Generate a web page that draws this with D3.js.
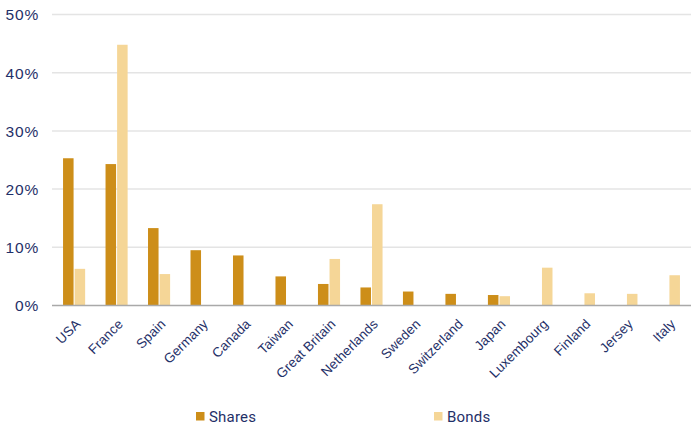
<!DOCTYPE html>
<html>
<head>
<meta charset="utf-8">
<script src="https://cdn.jsdelivr.net/npm/d3@7/dist/d3.min.js"></script>
<style>
  html, body { margin: 0; padding: 0; background: #fff; }
  svg { display: block; font-family: Roboto, "Liberation Sans", Arial, sans-serif; }
</style>
</head>
<body>
<svg id="chart" width="691" height="428"></svg>
<script>
// Country allocation, in percent
const countries = ["USA", "France", "Spain", "Germany", "Canada", "Taiwan", "Great Britain",
  "Netherlands", "Sweden", "Switzerland", "Japan", "Luxembourg", "Finland", "Jersey", "Italy"];
const shares = [25.3, 24.3, 13.3, 9.5, 8.6, 5.0, 3.7, 3.1, 2.4, 2.0, 1.8, 0, 0, 0, 0];
const bonds  = [6.3, 44.8, 5.4, 0, 0, 0, 8.0, 17.4, 0, 0, 1.6, 6.5, 2.1, 2.0, 5.2];
const seriesNames = ["Shares", "Bonds"];
const yTicks = [0, 10, 20, 30, 40, 50];

const colors = { Shares: "#CD8E19", Bonds: "#F5D697" };
const textColor = "#1F3068";

const svg = d3.select("#chart");
const margin = { left: 52, right: 691, top: 14.5, bottom: 305.5 };

const x0 = d3.scaleBand().domain(countries).range([margin.left, margin.right])
  .paddingInner(0.48).paddingOuter(0.26);
const x1 = d3.scaleBand().domain(seriesNames).range([0, x0.bandwidth()]).paddingInner(0.09);
const y = d3.scaleLinear().domain([0, 50]).range([margin.bottom, margin.top]);

// Gridlines
svg.append("g").selectAll("line").data(yTicks.filter(t => t > 0)).join("line")
  .attr("x1", margin.left).attr("x2", margin.right)
  .attr("y1", d => y(d)).attr("y2", d => y(d))
  .attr("stroke", "#e4e4e4").attr("stroke-width", 1.5);

// Y axis labels
const yAxis = d3.axisLeft(y).tickValues(yTicks).tickFormat(d => d + "%").tickSize(0).tickPadding(13);
const yg = svg.append("g").attr("transform", `translate(${margin.left},0)`).call(yAxis);
yg.select(".domain").remove();
yg.selectAll("text").attr("fill", textColor)
  .style("font-size", "15.5px").style("letter-spacing", "0.8px")
  .attr("dy", "0.35em");

// Bars
const rows = countries.map((c, i) => ({ country: c, Shares: shares[i], Bonds: bonds[i] }));
const groups = svg.append("g").selectAll("g").data(rows).join("g")
  .attr("transform", d => `translate(${x0(d.country)},0)`);
groups.selectAll("rect")
  .data(d => seriesNames.map(s => ({ s, v: d[s] })).filter(e => e.v > 0))
  .join("rect")
  .attr("x", e => x1(e.s))
  .attr("width", x1.bandwidth())
  .attr("y", e => y(e.v))
  .attr("height", e => y(0) - y(e.v))
  .attr("fill", e => colors[e.s]);

// Baseline
svg.append("line")
  .attr("x1", margin.left).attr("x2", margin.right)
  .attr("y1", y(0)).attr("y2", y(0))
  .attr("stroke", "#a9a9a9").attr("stroke-width", 1.5);

// X axis labels, rotated
const xAxis = d3.axisBottom(x0).tickSize(0).tickPadding(0);
const xg = svg.append("g").attr("transform", `translate(0,${y(0)})`).call(xAxis);
xg.select(".domain").remove();
xg.selectAll("text")
  .attr("fill", textColor)
  .style("font-size", "13.5px").style("letter-spacing", "0.1px")
  .attr("text-anchor", "end")
  .attr("transform", "translate(4,16) rotate(-45)")
  .attr("dy", "0.35em");

// Legend
const legend = [{ name: "Shares", x: 196 }, { name: "Bonds", x: 434 }];
const lg = svg.append("g").selectAll("g").data(legend).join("g")
  .attr("transform", d => `translate(${d.x},412)`);
lg.append("rect").attr("width", 8.5).attr("height", 8.5).attr("fill", d => colors[d.name]);
lg.append("text").attr("x", 13).attr("y", 9.5).attr("fill", textColor)
  .style("font-size", "15px").style("letter-spacing", "0.2px").text(d => d.name);
</script>
</body>
</html>
